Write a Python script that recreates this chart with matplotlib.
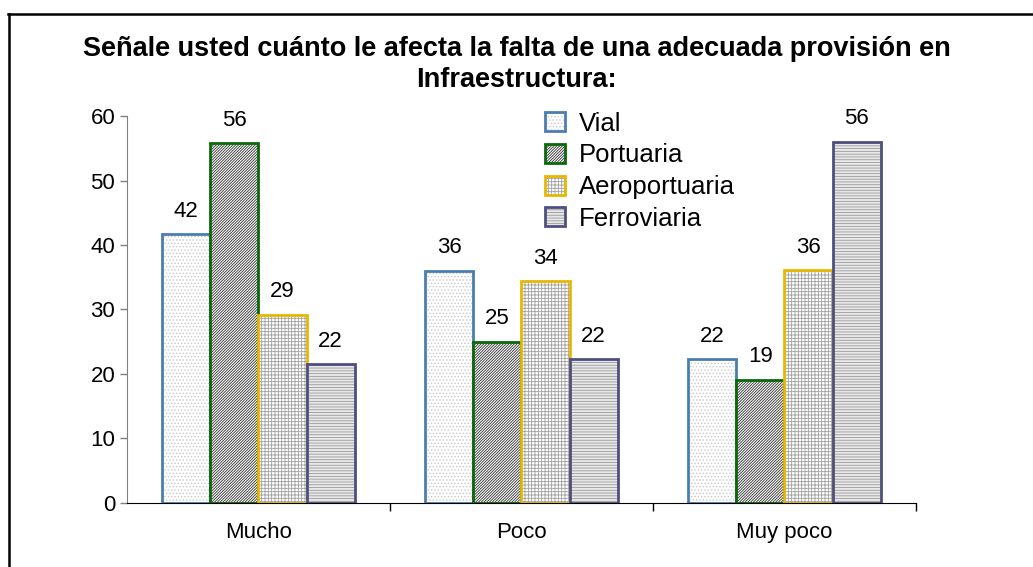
import matplotlib
matplotlib.use("Agg")
import matplotlib.pyplot as plt
from matplotlib.lines import Line2D
from matplotlib.legend_handler import HandlerTuple
import numpy as np

plt.rcParams['font.family'] = ['Liberation Sans', 'DejaVu Sans']
plt.rcParams['hatch.linewidth'] = 0.6

# Datos
categorias = ['Mucho', 'Poco', 'Muy poco']
series = ['Vial', 'Portuaria', 'Aeroportuaria', 'Ferroviaria']
vial = [41.7, 36.0, 22.3]
portuaria = [55.8, 25.0, 19.1]
aeroportuaria = [29.2, 34.4, 36.1]
ferroviaria = [21.5, 22.3, 56.0]
valores = [vial, portuaria, aeroportuaria, ferroviaria]

# Estilos (borde, relleno, color de trama, trama)
bordes = ['#4a7eb0', '#0a6a0a', '#e6b800', '#4f4f7f']
rellenos = ['white', 'white', 'white', '#e8e8e8']
tramas_color = ['#c8c8c8', '#303030', '#a0a0a0', '#9a9a9a']
tramas = ['.....', '/' * 12, '+++++', '-' * 6]

fig = plt.figure(figsize=(10.33, 5.67), dpi=100)
ax = fig.add_axes([0.1229, 0.1129, 0.7638, 0.6825])

x = np.arange(len(categorias))
ancho = 0.183
handles = []
for i in range(4):
    pos = x + (i - 1.5) * ancho
    b1 = ax.bar(pos, valores[i], ancho, color=rellenos[i], edgecolor=tramas_color[i],
                hatch=tramas[i], linewidth=0)
    b2 = ax.bar(pos, valores[i], ancho, fill=False, edgecolor=bordes[i], linewidth=2)
    ax.bar_label(b2, fmt='%.0f', padding=9, fontsize=16)
    handles.append((b1[0], b2[0]))

ax.set_xlim(-0.5, 2.5)
ax.set_ylim(0, 60)
ax.set_yticks(range(0, 61, 10))
ax.tick_params(axis='y', labelsize=16, length=5, color='#808080', width=1)
ax.set_xticks(x)
ax.set_xticklabels(categorias, fontsize=16)
ax.tick_params(axis='x', length=0, pad=14)
ax.set_xticks([0.5, 1.5, 2.5], minor=True)
ax.tick_params(axis='x', which='minor', length=6, color='black', width=1)

ax.spines['top'].set_visible(False)
ax.spines['right'].set_visible(False)
ax.spines['left'].set_color('#808080')
ax.spines['bottom'].set_color('black')

fig.legend(handles, series, handler_map={tuple: HandlerTuple(ndivide=1)},
           loc='upper left', bbox_to_anchor=(0.528, 0.803), frameon=False,
           fontsize=18.5, handlelength=0.75, handleheight=0.75, handletextpad=0.55,
           labelspacing=0.3, borderpad=0, borderaxespad=0)

fig.suptitle('Señale usted cuánto le afecta la falta de una adecuada provisión en\nInfraestructura:',
             x=0.5, y=0.937, fontsize=19.5, fontweight='bold', linespacing=1.28)

# Marco del gráfico (recortado)
fig.add_artist(Line2D([0.0085, 0.0085], [0, 0.976], color='black', lw=1.8, transform=fig.transFigure))
fig.add_artist(Line2D([0.0075, 1.0], [0.976, 0.976], color='black', lw=1.8, transform=fig.transFigure))

fig.savefig('out.png', dpi=100)
